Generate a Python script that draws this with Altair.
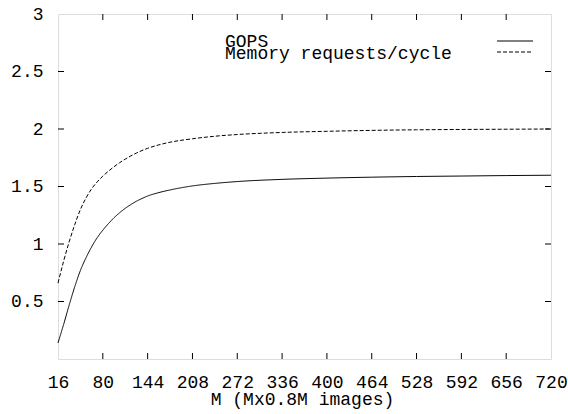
import altair as alt
import pandas as pd

M = [16, 24, 32, 40, 48, 56, 64, 72, 80, 88, 96, 104, 112, 120, 128, 136, 144, 160, 176,
     208, 240, 272, 336, 400, 464, 528, 592, 656, 720]
gops = [0.14, 0.30, 0.47, 0.63, 0.77, 0.88, 0.975, 1.055, 1.12, 1.177, 1.228, 1.272, 1.31,
        1.343, 1.372, 1.396, 1.417, 1.447, 1.47, 1.505, 1.527, 1.543, 1.562, 1.573, 1.581,
        1.587, 1.591, 1.595, 1.598]
mem = [0.66, 0.85, 1.02, 1.17, 1.30, 1.40, 1.48, 1.54, 1.59, 1.633, 1.672, 1.707, 1.738,
       1.766, 1.791, 1.813, 1.832, 1.862, 1.885, 1.915, 1.937, 1.952, 1.97, 1.98, 1.988,
       1.993, 1.996, 1.998, 2.0]
series_names = ["GOPS", "Memory requests/cycle"]
x_ticks = [16, 80, 144, 208, 272, 336, 400, 464, 528, 592, 656, 720]
y_ticks = [0.5, 1, 1.5, 2, 2.5, 3]
x_title = "M (Mx0.8M images)"

W, H = 493, 345
FONT = "Liberation Mono"
FS = 18

rows = []
for m, g, r in zip(M, gops, mem):
    rows.append({"M": m, "value": g, "series": series_names[0]})
    rows.append({"M": m, "value": r, "series": series_names[1]})
df = pd.DataFrame(rows)

xscale = alt.Scale(domain=[16, 720], nice=False, zero=False)
yscale = alt.Scale(domain=[0, 3], nice=False, zero=False)
dash_scale = alt.Scale(domain=series_names, range=[[1, 0], [4, 2]])

lines = alt.Chart(df).mark_line(color="black", strokeWidth=1, interpolate="monotone").encode(
    x=alt.X("M:Q", scale=xscale,
            axis=alt.Axis(values=x_ticks, domain=False, ticks=False, grid=False,
                          labelFont=FONT, labelFontSize=FS, labelColor="black",
                          labelBaseline="alphabetic", labelPadding=28, labelFlush=False,
                          title=None)),
    y=alt.Y("value:Q", scale=yscale,
            axis=alt.Axis(values=y_ticks, format="~g", domain=False, ticks=False, grid=False,
                          labelFont=FONT, labelFontSize=FS, labelColor="black",
                          labelPadding=15, labelFlush=False, title=None)),
    strokeDash=alt.StrokeDash("series:N", scale=dash_scale, legend=None),
    detail="series:N",
)

inner_y = pd.DataFrame({"t": y_ticks[:-1]})
inner_x = pd.DataFrame({"t": x_ticks[1:-1]})

yt_left = alt.Chart(inner_y).mark_rule(color="black", strokeWidth=1).encode(
    y=alt.Y("t:Q", scale=yscale), x=alt.value(0), x2=alt.value(6))
yt_right = alt.Chart(inner_y).mark_rule(color="black", strokeWidth=1).encode(
    y=alt.Y("t:Q", scale=yscale), x=alt.value(W - 6), x2=alt.value(W))
xt_bot = alt.Chart(inner_x).mark_rule(color="black", strokeWidth=1).encode(
    x=alt.X("t:Q", scale=xscale), y=alt.value(H - 6), y2=alt.value(H))
xt_top = alt.Chart(inner_x).mark_rule(color="black", strokeWidth=1).encode(
    x=alt.X("t:Q", scale=xscale), y=alt.value(0), y2=alt.value(6))

title_layer = alt.Chart(pd.DataFrame({"t": [x_title]})).mark_text(
    font=FONT, fontSize=FS, align="center", baseline="alphabetic", color="black"
).encode(x=alt.value(W / 2 - 2), y=alt.value(H + 46), text="t:N")

leg_layers = []
for i, name in enumerate(series_names):
    ldf = pd.DataFrame({"series": [name]})
    leg_layers.append(
        alt.Chart(ldf).mark_text(font=FONT, fontSize=FS, align="left",
                                 baseline="alphabetic", color="black").encode(
            x=alt.value(167), y=alt.value(33 + 12 * i), text="series:N"))
    leg_layers.append(
        alt.Chart(ldf).mark_rule(color="black", strokeWidth=1).encode(
            x=alt.value(439), x2=alt.value(475), y=alt.value(27 + 11 * i),
            strokeDash=alt.StrokeDash("series:N", scale=dash_scale, legend=None)))

chart = alt.layer(lines, yt_left, yt_right, xt_bot, xt_top, title_layer, *leg_layers).properties(
    width=W, height=H,
    autosize=alt.AutoSizeParams(type="none"),
    padding={"left": 58, "top": 14, "right": 17, "bottom": 55},
).configure_view(
    stroke="black", strokeWidth=1
).configure(background="white")

chart.save("out.html", embed_options={"renderer": "svg", "actions": False})
